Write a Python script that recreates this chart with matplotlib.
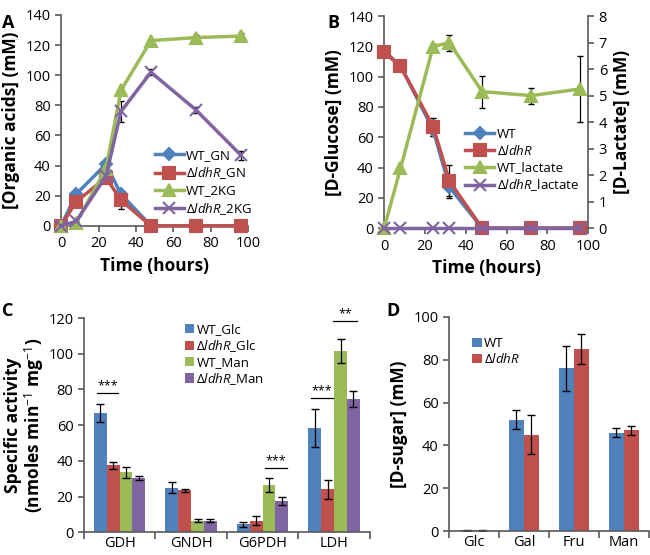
import numpy as np
import matplotlib
matplotlib.use("Agg")
import matplotlib.pyplot as plt

plt.rcParams['font.family'] = ['Open Sans', 'DejaVu Sans']
plt.rcParams['mathtext.fontset'] = 'custom'
plt.rcParams['mathtext.rm'] = 'Open Sans'
plt.rcParams['mathtext.it'] = 'Open Sans:italic'
plt.rcParams['mathtext.bf'] = 'Open Sans:bold'

# Данные: панель A (органические кислоты)
t = [0, 8, 24, 32, 48, 72, 96]
wt_gn = [0, 21, 41, 21, 0, 0, 0]
wt_gn_err = [0, 1, 2, 2, 0, 0, 0]
ko_gn = [0, 16, 32, 17, 0, 0, 0]
ko_gn_err = [0, 1, 2, 6, 0, 0, 0]
wt_2kg = [0, 2, 38, 90, 123, 125, 126]
wt_2kg_err = [0, 0.5, 2, 2, 1, 1.5, 2]
ko_2kg = [0, 3, 33, 76, 102, 77, 47]
ko_2kg_err = [0, 0.5, 2, 7, 2, 2, 3]

# панель B (глюкоза и лактат)
wt_glc = [117, 107, 65, 27, 0, 0, 0]
wt_glc_err = [1, 1, 4, 6, 0, 0, 0]
ko_glc = [116, 107, 67, 31, 0, 0, 0]
ko_glc_err = [1, 1, 6, 11, 0, 0, 0]
wt_lac = [0, 2.25, 6.85, 7.0, 5.15, 5.0, 5.25]
wt_lac_err = [0, 0.05, 0.1, 0.3, 0.6, 0.3, 1.25]
ko_lac = [0, 0, 0, 0, 0, 0, 0]

# панель C (удельная активность)
enzymes = ["GDH", "GNDH", "G6PDH", "LDH"]
c_series = ["WT_Glc", "Δ$\\mathit{ldhR}$_Glc", "WT_Man", "Δ$\\mathit{ldhR}$_Man"]
c_vals = [[67, 25, 4.5, 58.5],
          [37.5, 23.5, 6.5, 24],
          [33.5, 6.5, 26.5, 101.5],
          [30.5, 6.5, 17.5, 74.5]]
c_errs = [[5, 3, 1.5, 10.5],
          [2, 0.8, 2.5, 5.5],
          [3, 1, 4, 6.5],
          [1, 1, 2, 4.5]]

# панель D (сахара)
sugars = ["Glc", "Gal", "Fru", "Man"]
d_wt = [0.3, 52, 76, 46]
d_wt_err = [0.1, 4.5, 10.5, 2]
d_ko = [0.3, 45, 85, 47]
d_ko_err = [0.1, 9, 7, 2]

blue = '#4F81BD'
red = '#C0504D'
green = '#9BBB59'
purple = '#8064A2'

fig = plt.figure(figsize=(6.5, 5.55), dpi=100)

def style_ax(ax):
    for s in ['top', 'right']:
        ax.spines[s].set_visible(False)
    for s in ['left', 'bottom']:
        ax.spines[s].set_color('#595959')
        ax.spines[s].set_linewidth(1.2)
    ax.tick_params(labelsize=10.5, color='#595959', length=4, width=1.2)

def line(ax, x, y, e, color, marker, label, ms=8):
    ax.plot(x, y, color=color, marker=marker, ms=ms, lw=2.5, label=label,
            clip_on=False, zorder=3, mew=1.5)
    # ошибки только там, где они есть
    idx = [i for i in range(len(e)) if e[i] > 0]
    if idx:
        ax.errorbar([x[i] for i in idx], [y[i] for i in idx], yerr=[e[i] for i in idx],
                    fmt='none', ecolor='black', elinewidth=0.9, capsize=2.5,
                    zorder=2.5, clip_on=False)

leg_kw = dict(fontsize=9.5, frameon=False, handlelength=2.2, borderpad=0.2,
              labelspacing=0.25, handletextpad=0.2)

# A
axA = fig.add_axes([0.094, 0.593, 0.288, 0.380])
line(axA, t, wt_gn, wt_gn_err, blue, 'D', 'WT_GN', ms=6)
line(axA, t, ko_gn, ko_gn_err, red, 's', 'Δ$\\mathit{ldhR}$_GN')
line(axA, t, wt_2kg, wt_2kg_err, green, '^', 'WT_2KG', ms=9)
line(axA, t, ko_2kg, ko_2kg_err, purple, 'x', 'Δ$\\mathit{ldhR}$_2KG')
axA.set_xlim(0, 100)
axA.set_ylim(0, 140)
axA.set_xticks(range(0, 101, 20))
axA.set_yticks(range(0, 141, 20))
style_ax(axA)
axA.set_xlabel("Time (hours)", fontsize=12.5, fontweight='bold')
axA.set_ylabel("[Organic acids] (mM)", fontsize=12.5, fontweight='bold')
axA.legend(loc='lower right', bbox_to_anchor=(1.07, 0.0), **leg_kw)
fig.text(0.003, 0.975, "A", fontsize=13, fontweight='bold', va='top')

# B
axB = fig.add_axes([0.591, 0.589, 0.314, 0.382])
axB2 = axB.twinx()
line(axB, t, wt_glc, wt_glc_err, blue, 'D', 'WT', ms=6)
line(axB, t, ko_glc, ko_glc_err, red, 's', 'Δ$\\mathit{ldhR}$')
line(axB2, t, wt_lac, wt_lac_err, green, '^', 'WT_lactate', ms=9)
line(axB2, t, ko_lac, [0] * len(t), purple, 'x', 'Δ$\\mathit{ldhR}$_lactate')
axB.set_xlim(0, 100)
axB.set_ylim(0, 140)
axB2.set_ylim(0, 8)
axB.set_xticks(range(0, 101, 20))
axB.set_yticks(range(0, 141, 20))
axB2.set_yticks(range(0, 9))
style_ax(axB)
axB2.spines['top'].set_visible(False)
axB2.spines['left'].set_visible(False)
axB2.spines['bottom'].set_visible(False)
axB2.spines['right'].set_color('#595959')
axB2.spines['right'].set_linewidth(1.2)
axB2.tick_params(labelsize=10.5, color='#595959', length=4, width=1.2)
axB.set_xlabel("Time (hours)", fontsize=12.5, fontweight='bold')
axB.set_ylabel("[D-Glucose] (mM)", fontsize=12.5, fontweight='bold')
axB2.set_ylabel("[D-Lactate] (mM)", fontsize=12.5, fontweight='bold')
h1, l1 = axB.get_legend_handles_labels()
h2, l2 = axB2.get_legend_handles_labels()
axB2.legend(h1 + h2, l1 + l2, loc='lower right', bbox_to_anchor=(1.0, 0.12), **leg_kw)
fig.text(0.503, 0.975, "B", fontsize=13, fontweight='bold', va='top')

# C
axC = fig.add_axes([0.129, 0.041, 0.440, 0.386])
colors = [blue, red, green, purple]
x = np.arange(len(enzymes))
w = 0.18
for i in range(4):
    axC.bar(x + (i - 1.5) * w, c_vals[i], w, yerr=c_errs[i], color=colors[i],
            label=c_series[i], error_kw=dict(elinewidth=0.9, capsize=3, ecolor='black'))
axC.set_xlim(-0.5, 3.5)
axC.set_ylim(0, 120)
axC.set_yticks(range(0, 121, 20))
axC.set_xticks(x)
axC.set_xticklabels(enzymes)
axC.set_xticks(np.arange(-0.5, 4.0, 1), minor=True)
style_ax(axC)
axC.tick_params(axis='x', which='major', length=0, pad=3)
axC.tick_params(axis='x', which='minor', length=5, color='#595959', width=1.2)
axC.set_ylabel("Specific activity\n(nmoles min$^{-1}$ mg$^{-1}$)", fontsize=12.5,
               fontweight='bold', linespacing=1.0, labelpad=2)
axC.legend(loc='upper left', bbox_to_anchor=(0.32, 1.02), fontsize=9.5, frameon=False,
           handlelength=0.7, handleheight=0.7, borderpad=0.2, labelspacing=0.15, handletextpad=0.2)

def sig(ax, x1, x2, y, txt):
    ax.plot([x1, x2], [y, y], color='black', lw=0.9, clip_on=False)
    ax.text((x1 + x2) / 2, y + 0.5, txt, ha='center', va='bottom', fontsize=9, clip_on=False)

sig(axC, 0 - 1.5 * w - 0.05, 0 - 0.5 * w + 0.07, 78, "***")
sig(axC, 2 + 0.5 * w - 0.05, 2 + 1.5 * w + 0.07, 36, "***")
sig(axC, 3 - 1.5 * w - 0.05, 3 - 0.5 * w + 0.07, 75, "***")
sig(axC, 3 + 0.5 * w - 0.1, 3 + 1.5 * w + 0.05, 118.5, "**")
fig.text(0.003, 0.455, "C", fontsize=13, fontweight='bold', va='top')

# D
axD = fig.add_axes([0.691, 0.043, 0.307, 0.386])
xd = np.arange(len(sugars))
wd = 0.3
axD.bar(xd - wd / 2, d_wt, wd, yerr=d_wt_err, color=blue, label='WT',
        error_kw=dict(elinewidth=0.9, capsize=3, ecolor='black'))
axD.bar(xd + wd / 2, d_ko, wd, yerr=d_ko_err, color=red, label='Δ$\\mathit{ldhR}$',
        error_kw=dict(elinewidth=0.9, capsize=3, ecolor='black'))
axD.set_xlim(-0.5, 3.5)
axD.set_ylim(0, 100)
axD.set_yticks(range(0, 101, 20))
axD.set_xticks(xd)
axD.set_xticklabels(sugars)
axD.set_xticks(np.arange(-0.5, 4.0, 1), minor=True)
style_ax(axD)
axD.tick_params(axis='x', which='major', length=0, pad=3)
axD.tick_params(axis='x', which='minor', length=5, color='#595959', width=1.2)
axD.set_ylabel("[D-sugar] (mM)", fontsize=12.5, fontweight='bold')
axD.legend(loc='upper left', bbox_to_anchor=(0.07, 0.95), fontsize=9.5, frameon=False,
           handlelength=0.7, handleheight=0.7, borderpad=0.2, labelspacing=0.15, handletextpad=0.2)
fig.text(0.595, 0.455, "D", fontsize=13, fontweight='bold', va='top')

fig.savefig("out.png", dpi=100)
